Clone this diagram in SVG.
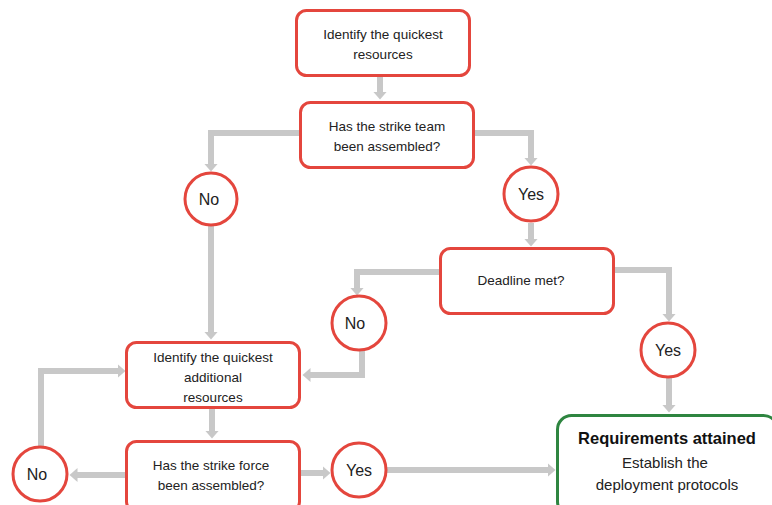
<svg xmlns="http://www.w3.org/2000/svg" width="772" height="505" viewBox="0 0 772 505">
<defs>
<marker id="ah" markerUnits="userSpaceOnUse" markerWidth="16" markerHeight="16" viewBox="0 0 16 16" refX="0.5" refY="8" orient="auto">
<path d="M0,1 L8,8 L0,15 Z" fill="#c8c8c8"/>
</marker>
<style>
.box{fill:#fff;stroke:#e4463d;stroke-width:3}
.circ{fill:#fff;stroke:#e4463d;stroke-width:3}
.fin{fill:#fff;stroke:#2e8540;stroke-width:3}
.t{font-family:"Liberation Sans",Arial,sans-serif;font-size:13.5px;fill:#222;text-anchor:middle}
.c{font-family:"Liberation Sans",Arial,sans-serif;font-size:16px;fill:#222;text-anchor:middle}
.b{font-family:"Liberation Sans",Arial,sans-serif;font-size:16.5px;font-weight:bold;fill:#111;text-anchor:middle}
.s{font-family:"Liberation Sans",Arial,sans-serif;font-size:15px;fill:#222;text-anchor:middle}
.ln{fill:none;stroke:#c8c8c8;stroke-width:6;marker-end:url(#ah)}
</style>
</defs>
<rect width="772" height="505" fill="#fff"/>
<g id="connectors">
<path class="ln" d="M380,77 V92"/>
<path class="ln" d="M300,133 H211 V164"/>
<path class="ln" d="M474,133 H531 V158"/>
<path class="ln" d="M531,223 V239"/>
<path class="ln" d="M211,226 V332"/>
<path class="ln" d="M440,272 H357 V288"/>
<path class="ln" d="M614,270 H669 V314"/>
<path class="ln" d="M362,350 V375 H310"/>
<path class="ln" d="M669,377 V405"/>
<path class="ln" d="M212,408 V431"/>
<path class="ln" d="M126,475 H77"/>
<path class="ln" d="M41,447 V371 H118"/>
<path class="ln" d="M300,473 H323"/>
<path class="ln" d="M387,470 H548"/>
</g>
<g id="n1"><rect class="box" x="296.500" y="10.500" width="173" height="65" rx="10"/><text class="t" x="383" y="39">Identify the quickest</text><text class="t" x="383" y="59">resources</text></g>
<g id="n2"><rect class="box" x="300.500" y="102.500" width="173" height="65" rx="10"/><text class="t" x="387" y="131">Has the strike team</text><text class="t" x="387" y="151">been assembled?</text></g>
<g id="no1"><circle class="circ" cx="211" cy="199" r="26"/><text class="c" x="209" y="205">No</text></g>
<g id="yes1"><circle class="circ" cx="531" cy="194" r="27"/><text class="c" x="531" y="200">Yes</text></g>
<g id="n3"><rect class="box" x="440.500" y="248.500" width="173" height="65" rx="10"/><text class="t" x="521" y="285">Deadline met?</text></g>
<g id="no2"><circle class="circ" cx="359" cy="323" r="27"/><text class="c" x="355" y="329">No</text></g>
<g id="yes2"><circle class="circ" cx="668" cy="350" r="27"/><text class="c" x="668" y="356">Yes</text></g>
<g id="n4"><rect class="box" x="126.500" y="342.500" width="173" height="65" rx="10"/><text class="t" x="213" y="362">Identify the quickest</text><text class="t" x="213" y="382">additional</text><text class="t" x="213" y="402">resources</text></g>
<g id="n5"><rect class="box" x="126.500" y="441.500" width="173" height="70" rx="10"/><text class="t" x="211" y="470">Has the strike force</text><text class="t" x="211" y="490">been assembled?</text></g>
<g id="no3"><circle class="circ" cx="40" cy="474" r="27"/><text class="c" x="37" y="480">No</text></g>
<g id="yes3"><circle class="circ" cx="359" cy="470" r="27"/><text class="c" x="359" y="476">Yes</text></g>
<g id="n6"><rect class="fin" x="557.500" y="415.500" width="220" height="100" rx="14"/><text class="b" x="667" y="444">Requirements attained</text><text class="s" x="665" y="468">Establish the</text><text class="s" x="667" y="490">deployment protocols</text></g>
</svg>
